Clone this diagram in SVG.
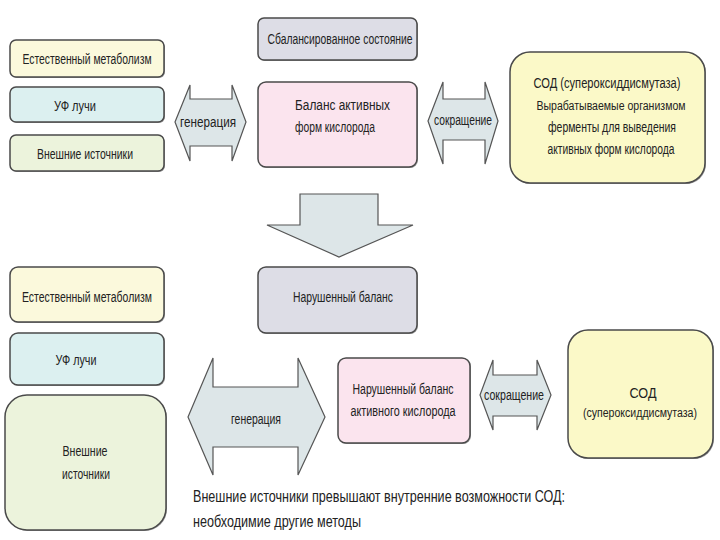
<svg xmlns="http://www.w3.org/2000/svg" width="720" height="540" viewBox="0 0 720 540">
<style>
.box{stroke:#4a4a4a;stroke-width:1.5}
.sh{fill:#9a9a9a}
.arr{fill:#dde6e8;stroke:#555;stroke-width:1.2;stroke-linejoin:miter}
text{font-family:"Liberation Sans",Arial,sans-serif;font-size:14px;fill:#222}
.c{text-anchor:middle}
.s{font-size:12.5px}
.big{font-size:17px}
</style>
<rect width="720" height="540" fill="#ffffff"/>
<g id="connectors">
<polygon class="arr" points="175,122 190,85 190,99 232,99 232,85 246,122 232,161 232,146 190,146 190,161"/>
<polygon class="arr" points="428,121 443,82 443,99 485,99 485,82 498,121 485,164 485,140 443,140 443,164"/>
<polygon class="arr" points="300,194 378,194 378,225 413,225 339,257 267,225 300,225"/>
<polygon class="arr" points="188,417 213,358 213,387 298,387 298,358 325,417 298,475 298,447 213,447 213,475"/>
<polygon class="arr" points="480,395 493,360 493,375 537,375 537,360 551,395 537,430 537,416 493,416 493,430"/>
<text x="208" y="127" textLength="56" lengthAdjust="spacingAndGlyphs" class="c">генерация</text>
<text x="463" y="125" textLength="58" lengthAdjust="spacingAndGlyphs" class="c">сокращение</text>
<text x="256" y="424" textLength="50" lengthAdjust="spacingAndGlyphs" class="c">генерация</text>
<text x="514" y="400" textLength="60" lengthAdjust="spacingAndGlyphs" class="c">сокращение</text>
</g>
<g id="n1"><rect class="sh" x="11" y="41" width="154" height="37" rx="6"/><rect class="box" x="10" y="40" width="154" height="37" rx="6" fill="#fbf9dc"/>
<text x="87" y="64" textLength="129" lengthAdjust="spacingAndGlyphs" class="c">Естественный метаболизм</text></g>
<g id="n2"><rect class="sh" x="11" y="88" width="154" height="35" rx="6"/><rect class="box" x="10" y="87" width="154" height="35" rx="6" fill="#dcf0f0"/>
<text x="75" y="111" textLength="42" lengthAdjust="spacingAndGlyphs" class="c">УФ лучи</text></g>
<g id="n3"><rect class="sh" x="11" y="136" width="154" height="36" rx="6"/><rect class="box" x="10" y="135" width="154" height="36" rx="6" fill="#ecf3dc"/>
<text x="85" y="159" textLength="96" lengthAdjust="spacingAndGlyphs" class="c">Внешние источники</text></g>
<g id="n4"><rect class="sh" x="259" y="19" width="159" height="42" rx="6"/><rect class="box" x="258" y="18" width="159" height="42" rx="6" fill="#dddde6"/>
<text x="340" y="44" textLength="145" lengthAdjust="spacingAndGlyphs" class="c">Сбалансированное состояние</text></g>
<g id="n5"><rect class="sh" x="259" y="83" width="159" height="85" rx="8"/><rect class="box" x="258" y="82" width="159" height="85" rx="8" fill="#fbe4ee"/>
<text x="295" y="110" textLength="95" lengthAdjust="spacingAndGlyphs">Баланс активных</text>
<text x="295" y="132" textLength="80" lengthAdjust="spacingAndGlyphs">форм кислорода</text></g>
<g id="n6"><rect class="sh" x="511" y="53" width="195" height="131" rx="20"/><rect class="box" x="510" y="52" width="195" height="131" rx="20" fill="#fbf9c8"/>
<text x="607" y="88" textLength="147" lengthAdjust="spacingAndGlyphs" class="c">СОД (супероксиддисмутаза)</text>
<text x="611" y="110" textLength="149" lengthAdjust="spacingAndGlyphs" class="c s">Вырабатываемые организмом</text>
<text x="612" y="132" textLength="128" lengthAdjust="spacingAndGlyphs" class="c">ферменты для выведения</text>
<text x="611" y="154" textLength="127" lengthAdjust="spacingAndGlyphs" class="c">активных форм кислорода</text></g>
<g id="n7"><rect class="sh" x="11" y="268" width="154" height="55" rx="8"/><rect class="box" x="10" y="267" width="154" height="55" rx="8" fill="#fbf9dc"/>
<text x="87" y="302" textLength="130" lengthAdjust="spacingAndGlyphs" class="c">Естественный метаболизм</text></g>
<g id="n8"><rect class="sh" x="11" y="334" width="154" height="52" rx="8"/><rect class="box" x="10" y="333" width="154" height="52" rx="8" fill="#dcf0f0"/>
<text x="76" y="365" textLength="41" lengthAdjust="spacingAndGlyphs" class="c">УФ лучи</text></g>
<g id="n9"><rect class="sh" x="6" y="396" width="161" height="135" rx="22"/><rect class="box" x="5" y="395" width="161" height="135" rx="22" fill="#ecf3dc"/>
<text x="85" y="456" textLength="45" lengthAdjust="spacingAndGlyphs" class="c">Внешние</text>
<text x="86" y="479" textLength="48" lengthAdjust="spacingAndGlyphs" class="c">источники</text></g>
<g id="n10"><rect class="sh" x="259" y="268" width="159" height="66" rx="8"/><rect class="box" x="258" y="267" width="159" height="66" rx="8" fill="#dddde6"/>
<text x="343" y="302" textLength="100" lengthAdjust="spacingAndGlyphs" class="c">Нарушенный баланс</text></g>
<g id="n11"><rect class="sh" x="339" y="359" width="132" height="85" rx="8"/><rect class="box" x="338" y="358" width="132" height="85" rx="8" fill="#fbe4ee"/>
<text x="403" y="394" textLength="101" lengthAdjust="spacingAndGlyphs" class="c">Нарушенный баланс</text>
<text x="403" y="416" textLength="105" lengthAdjust="spacingAndGlyphs" class="c">активного кислорода</text></g>
<g id="n12"><rect class="sh" x="569" y="331" width="145" height="128" rx="20"/><rect class="box" x="568" y="330" width="145" height="128" rx="20" fill="#fbf9c8"/>
<text x="643" y="398" textLength="27" lengthAdjust="spacingAndGlyphs" class="c">СОД</text>
<text x="640" y="417" textLength="114" lengthAdjust="spacingAndGlyphs" class="c s">(супероксиддисмутаза)</text></g>
<g id="note">
<text x="193" y="502" class="big" textLength="372" lengthAdjust="spacingAndGlyphs">Внешние источники превышают внутренние возможности СОД:</text>
<text x="193" y="527" class="big" textLength="168" lengthAdjust="spacingAndGlyphs">необходимие другие методы</text>
</g>
</svg>
